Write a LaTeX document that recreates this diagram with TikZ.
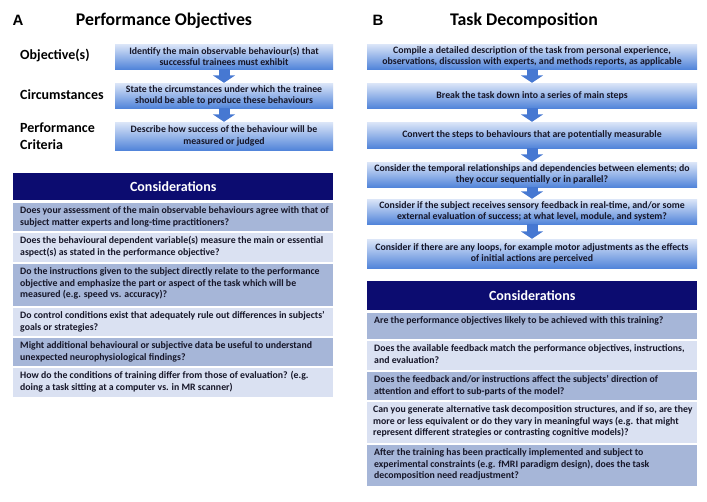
\documentclass[tikz,border=0pt]{standalone}
\usepackage{fontspec}
\setmainfont{Carlito}
\newfontfamily\arialfont{Liberation Sans}
\usetikzlibrary{arrows.meta}
\definecolor{boxtop}{RGB}{220,230,248}
\definecolor{boxbot}{RGB}{82,133,218}
\definecolor{arrowc}{RGB}{70,120,210}
\definecolor{navy}{RGB}{12,12,112}
\definecolor{rowdark}{RGB}{166,182,216}
\definecolor{rowlight}{RGB}{218,225,242}
\definecolor{txt}{RGB}{22,22,40}
\begin{document}
\begin{tikzpicture}[x=1pt,y=-1pt,
  flowbox/.style={top color=boxtop,bottom color=boxbot,draw=none,inner sep=0pt,
    align=center,text=txt,font=\bfseries\fontsize{9.8}{11.6}\selectfont},
  flowA/.style={flowbox,minimum width=218pt},
  flowB/.style={flowbox,minimum width=330pt},
  downarrow/.style={draw=arrowc,line width=11pt,-{Triangle[width=22pt,length=7.5pt]}},
  lbl/.style={anchor=west,font=\bfseries\fontsize{14}{17}\selectfont,align=left,inner sep=0pt},
  ttl/.style={font=\bfseries\fontsize{17.8}{20}\selectfont,inner sep=0pt},
  letter/.style={font=\arialfont\bfseries\fontsize{15}{18}\selectfont,inner sep=0pt},
  hdr/.style={anchor=north west,fill=navy,text=white,inner sep=0pt,
    font=\bfseries\fontsize{14}{16}\selectfont},
  rowbox/.style={anchor=north west,inner sep=0pt,draw=none},
  rowtext/.style={anchor=north west,inner xsep=7pt,inner ysep=3.5pt,align=left,text=txt,
    font=\bfseries\fontsize{9.8}{11.6}\selectfont}
]
\useasboundingbox[fill=white] (0,0) rectangle (707,501);

% ---------- Panel A ----------
\node[letter] (A) at (18,20) {A};
\node[ttl] (tA) at (164,21) {Performance Objectives};

\node[lbl] (l1) at (20,55) {Objective(s)};
\node[lbl] (l2) at (20,95) {Circumstances};
\node[lbl] (l3) at (20,136.5) {Performance\\Criteria};

\node[flowA,minimum height=25pt] (a1) at (224,56.5) {Identify the main observable behaviour(s) that\\successful trainees must exhibit};
\node[flowA,minimum height=25pt] (a2) at (224,95.5) {State the circumstances under which the trainee\\should be able to produce these behaviours};
\node[flowA,minimum height=28pt] (a3) at (224,136) {Describe how success of the behaviour will be\\measured or judged};
\draw[downarrow] (a1.south) -- (a2.north);
\draw[downarrow] (a2.south) -- (a3.north);

\node[hdr,minimum width=320pt,minimum height=27pt] (hA) at (13,173) {Considerations};

\node[rowbox,fill=rowdark,minimum width=320pt,minimum height=28pt] (ra1) at (13,203) {};
\node[rowtext] (ta1) at (ra1.north west) {Does your assessment of the main observable behaviours agree with that of\\subject matter experts and long-time practitioners?};
\node[rowbox,fill=rowlight,minimum width=320pt,minimum height=29pt] (ra2) at (13,233) {};
\node[rowtext] (ta2) at (ra2.north west) {Does the behavioural dependent variable(s) measure the main or essential\\aspect(s) as stated in the performance objective?};
\node[rowbox,fill=rowdark,minimum width=320pt,minimum height=42pt] (ra3) at (13,264) {};
\node[rowtext] (ta3) at (ra3.north west) {Do the instructions given to the subject directly relate to the performance\\objective and emphasize the part or aspect of the task which will be\\measured (e.g. speed vs. accuracy)?};
\node[rowbox,fill=rowlight,minimum width=320pt,minimum height=28pt] (ra4) at (13,308) {};
\node[rowtext] (ta4) at (ra4.north west) {Do control conditions exist that adequately rule out differences in subjects’\\goals or strategies?};
\node[rowbox,fill=rowdark,minimum width=320pt,minimum height=28pt] (ra5) at (13,338) {};
\node[rowtext] (ta5) at (ra5.north west) {Might additional behavioural or subjective data be useful to understand\\unexpected neurophysiological findings?};
\node[rowbox,fill=rowlight,minimum width=320pt,minimum height=29pt] (ra6) at (13,368) {};
\node[rowtext] (ta6) at (ra6.north west) {How do the conditions of training differ from those of evaluation? (e.g.\\doing a task sitting at a computer vs. in MR scanner)};

% ---------- Panel B ----------
\node[letter] (B) at (378,20) {B};
\node[ttl] (tB) at (524,21) {Task Decomposition};

\node[flowB,minimum height=25pt] (b1) at (532,56.5) {Compile a detailed description of the task from personal experience,\\observations, discussion with experts, and methods reports, as applicable};
\node[flowB,minimum height=25pt] (b2) at (532,95.5) {Break the task down into a series of main steps};
\node[flowB,minimum height=26pt] (b3) at (532,135) {Convert the steps to behaviours that are potentially measurable};
\node[flowB,minimum height=25pt] (b4) at (532,174.5) {Consider the temporal relationships and dependencies between elements; do\\they occur sequentially or in parallel?};
\node[flowB,minimum height=25pt] (b5) at (532,211.5) {Consider if the subject receives sensory feedback in real-time, and/or some\\external evaluation of success; at what level, module, and system?};
\node[flowB,minimum height=29pt] (b6) at (532,253.5) {Consider if there are any loops, for example motor adjustments as the effects\\of initial actions are perceived};
\draw[downarrow] (b1.south) -- (b2.north);
\draw[downarrow] (b2.south) -- (b3.north);
\draw[downarrow] (b3.south) -- (b4.north);
\draw[downarrow] (b4.south) -- (b5.north);
\draw[downarrow] (b5.south) -- (b6.north);

\node[hdr,minimum width=330pt,minimum height=29pt] (hB) at (367,281) {Considerations};

\node[rowbox,fill=rowdark,minimum width=330pt,minimum height=26pt] (rb1) at (367,313) {};
\node[rowtext] (tb1) at (rb1.north west) {Are the performance objectives likely to be achieved with this training?};
\node[rowbox,fill=rowlight,minimum width=330pt,minimum height=29pt] (rb2) at (367,341) {};
\node[rowtext] (tb2) at (rb2.north west) {Does the available feedback match the performance objectives, instructions,\\and evaluation?};
\node[rowbox,fill=rowdark,minimum width=330pt,minimum height=28pt] (rb3) at (367,372) {};
\node[rowtext] (tb3) at (rb3.north west) {Does the feedback and/or instructions affect the subjects’ direction of\\attention and effort to sub-parts of the model?};
\node[rowbox,fill=rowlight,minimum width=330pt,minimum height=41pt] (rb4) at (367,402) {};
\node[rowtext,inner xsep=6pt] (tb4) at (rb4.north west) {Can you generate alternative task decomposition structures, and if so, are they\\more or less equivalent or do they vary in meaningful ways (e.g. that might\\represent different strategies or contrasting cognitive models)?};
\node[rowbox,fill=rowdark,minimum width=330pt,minimum height=41pt] (rb5) at (367,445) {};
\node[rowtext] (tb5) at (rb5.north west) {After the training has been practically implemented and subject to\\experimental constraints (e.g. fMRI paradigm design), does the task\\decomposition need readjustment?};
\end{tikzpicture}
\end{document}
